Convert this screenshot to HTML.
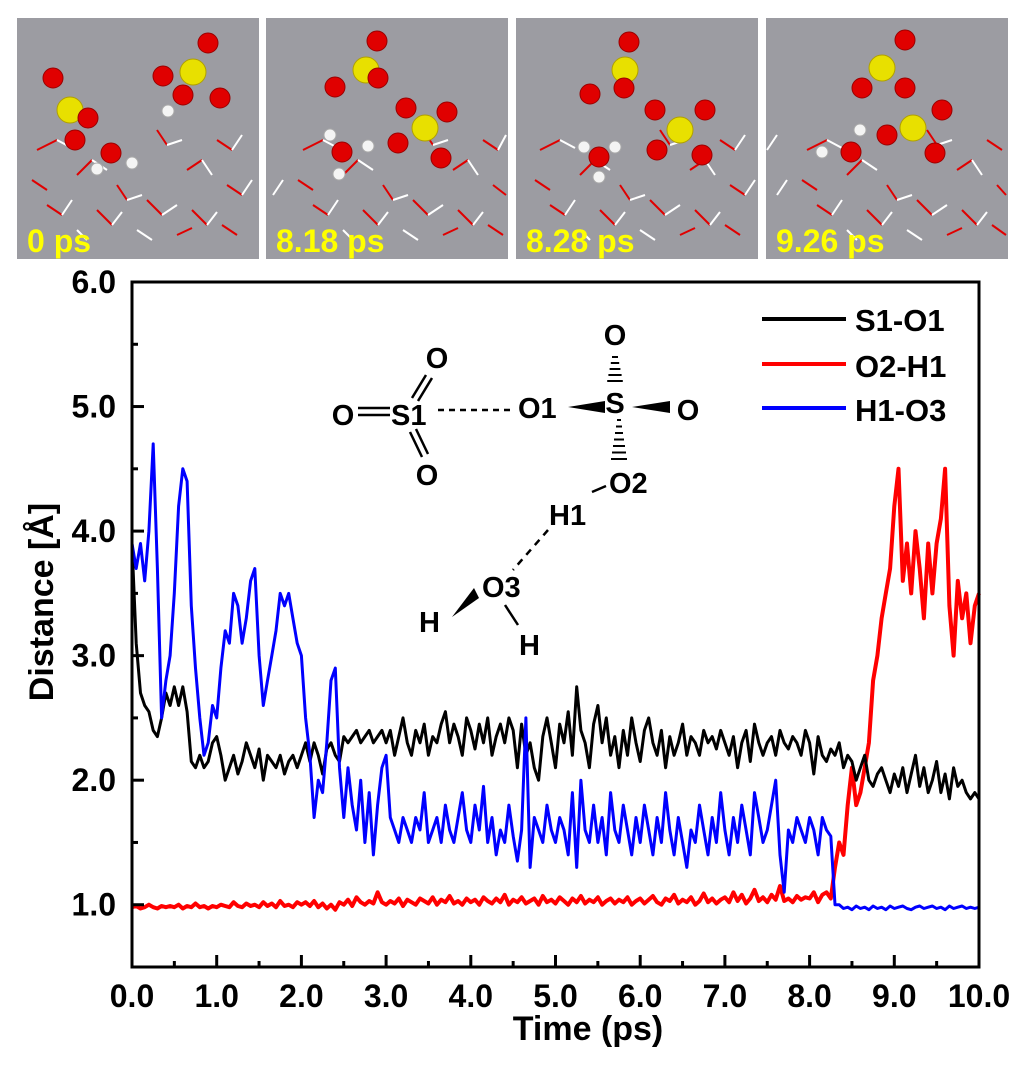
<!DOCTYPE html>
<html><head><meta charset="utf-8"><style>
html,body{margin:0;padding:0;background:#fff;}
svg{display:block;font-family:"Liberation Sans",Arial,sans-serif;font-weight:bold;}
</style></head><body>
<svg id="root" width="1033" height="1069" viewBox="0 0 1033 1069" xmlns="http://www.w3.org/2000/svg">
<g id="panels"></g>
<g id="chart"></g>
</svg>
<script>
// ---- chart data ----
const times = [];
for (let i = 0; i <= 200; i++) times.push(i * 0.05);
const xTickLabels = ["0.0","1.0","2.0","3.0","4.0","5.0","6.0","7.0","8.0","9.0","10.0"];
const yTickLabels = ["1.0","2.0","3.0","4.0","5.0","6.0"];
const seriesNames = ["S1-O1","O2-H1","H1-O3"];
const s1o1 = [3.9,3.1,2.7,2.6,2.55,2.4,2.35,2.5,2.7,2.6,2.75,2.6,2.75,2.55,2.15,2.1,2.2,2.1,2.15,2.3,
2.35,2.2,2.0,2.1,2.2,2.05,2.15,2.3,2.2,2.1,2.25,2.0,2.2,2.15,2.1,2.2,2.05,2.15,2.2,2.1,
2.2,2.3,2.15,2.3,2.2,2.05,2.25,2.3,2.2,2.15,2.35,2.3,2.35,2.4,2.3,2.35,2.4,2.3,2.35,2.4,
2.3,2.4,2.2,2.35,2.5,2.3,2.2,2.4,2.3,2.45,2.2,2.35,2.3,2.45,2.55,2.3,2.45,2.35,2.2,2.5,
2.4,2.25,2.45,2.3,2.5,2.2,2.35,2.45,2.3,2.5,2.4,2.1,2.45,2.2,2.3,2.1,2.0,2.35,2.5,2.3,
2.1,2.45,2.3,2.55,2.2,2.75,2.4,2.3,2.1,2.45,2.6,2.3,2.5,2.2,2.35,2.1,2.4,2.2,2.5,2.3,
2.15,2.4,2.5,2.3,2.2,2.4,2.1,2.35,2.2,2.3,2.45,2.2,2.35,2.3,2.2,2.4,2.3,2.35,2.25,2.4,
2.3,2.2,2.35,2.1,2.3,2.4,2.15,2.45,2.3,2.2,2.3,2.35,2.2,2.4,2.3,2.25,2.35,2.3,2.2,2.4,
2.3,2.05,2.35,2.2,2.15,2.25,2.2,2.3,2.1,2.2,2.15,2.0,2.1,2.2,2.0,1.95,2.05,2.1,2.0,1.9,
2.05,1.95,2.1,1.9,2.05,2.2,1.95,2.1,1.9,2.0,2.15,1.9,2.05,1.85,2.1,1.95,2.0,1.9,1.85,1.9,1.85];
const o2h1 = [0.98,0.99,0.97,0.98,1.0,0.98,0.97,0.99,0.98,0.99,0.98,1.0,0.97,0.99,0.98,1.01,0.98,0.99,0.97,0.99,
0.98,1.0,0.99,0.98,1.02,0.99,0.98,1.01,0.99,1.0,0.98,1.02,0.99,1.01,0.98,1.03,0.99,1.0,0.98,1.02,
1.0,1.02,0.99,1.03,0.98,1.01,0.97,1.0,0.96,1.02,1.0,1.04,0.99,1.06,1.02,1.0,1.03,1.01,1.10,1.02,
1.0,1.03,1.01,1.05,0.99,1.04,1.02,1.0,1.05,1.03,1.01,1.06,1.0,1.04,1.02,1.07,1.01,1.03,1.0,1.05,
1.02,1.04,1.0,1.06,1.03,1.01,1.05,1.02,1.08,1.0,1.04,1.02,1.06,1.01,1.03,1.05,1.0,1.07,1.02,1.04,
1.01,1.06,1.03,1.0,1.05,1.02,1.07,1.01,1.04,1.02,1.06,1.0,1.03,1.05,1.01,1.04,1.02,1.06,1.0,1.03,
1.05,1.01,1.04,1.07,1.02,1.0,1.05,1.03,1.08,1.01,1.04,1.02,1.06,1.0,1.03,1.09,1.02,1.05,1.01,1.04,
1.06,1.02,1.1,1.03,1.08,1.01,1.05,1.12,1.03,1.06,1.02,1.08,1.04,1.15,1.03,1.05,1.02,1.07,1.04,1.06,
1.05,1.1,1.02,1.08,1.1,1.05,1.3,1.5,1.4,1.8,2.1,1.8,1.9,2.1,2.3,2.8,3.0,3.3,3.5,3.7,
4.2,4.5,3.6,3.9,3.5,4.0,3.7,3.3,3.9,3.5,3.9,4.1,4.5,3.4,3.0,3.6,3.3,3.5,3.1,3.4,3.5];
const h1o3 = [3.9,3.7,3.9,3.6,4.0,4.7,3.7,2.5,2.8,3.0,3.5,4.2,4.5,4.4,3.4,2.9,2.5,2.2,2.3,2.6,
2.5,2.9,3.2,3.1,3.5,3.4,3.1,3.3,3.6,3.7,3.0,2.6,2.8,3.0,3.2,3.5,3.4,3.5,3.3,3.1,
3.0,2.5,2.2,1.7,2.0,1.9,2.3,2.8,2.9,2.1,1.7,2.1,1.8,1.6,2.0,1.5,1.9,1.4,1.8,2.1,
2.2,1.7,1.6,1.5,1.7,1.6,1.5,1.7,1.6,1.9,1.5,1.6,1.7,1.5,1.8,1.6,1.5,1.7,1.9,1.6,
1.5,1.8,1.6,1.95,1.5,1.7,1.4,1.6,1.5,1.8,1.55,1.35,1.6,2.5,1.3,1.7,1.6,1.5,1.8,1.6,
1.5,1.7,1.6,1.4,1.9,1.3,2.0,1.6,1.5,1.8,1.5,1.7,1.4,1.9,1.6,1.5,1.8,1.6,1.4,1.7,
1.5,1.8,1.6,1.4,1.7,1.5,1.9,1.6,1.4,1.7,1.5,1.3,1.6,1.5,1.8,1.6,1.4,1.7,1.5,1.9,
1.6,1.4,1.7,1.5,1.8,1.6,1.4,1.9,1.7,1.5,1.6,1.8,2.0,1.4,1.1,1.6,1.5,1.7,1.6,1.5,
1.7,1.6,1.4,1.7,1.6,1.55,1.0,1.0,0.97,0.98,0.96,0.99,0.97,0.98,0.96,0.99,0.97,0.98,0.96,0.99,
0.97,0.98,0.99,0.97,0.96,0.98,0.99,0.97,0.98,0.99,0.97,0.98,0.96,0.99,0.97,0.98,0.99,0.97,0.98,0.97,0.98];

const NS = "http://www.w3.org/2000/svg";
function mk(parent, tag, attrs, text){
  const e = document.createElementNS(NS, tag);
  for (const k in attrs) e.setAttribute(k, attrs[k]);
  if (text !== undefined) e.textContent = text;
  parent.appendChild(e);
  return e;
}
const X0 = 132, X1 = 979, Y0 = 967, Y1 = 282;
const xMin = 0, xMax = 10, yMin = 0.5, yMax = 6.0;
const xs = t => X0 + (t - xMin) / (xMax - xMin) * (X1 - X0);
const ys = v => Y0 - (v - yMin) / (yMax - yMin) * (Y0 - Y1);

const chart = document.getElementById('chart');

const colors = ["#000000","#ff0000","#0000ff"];
const widths = [3,4,3];
const order = [1,0,2];
const allSeries = [s1o1, o2h1, h1o3];
order.forEach(si => {
  const d = allSeries[si].map((v,i) => (i ? "L" : "M") + xs(times[i]).toFixed(1) + "," + ys(v).toFixed(1)).join("");
  const p = mk(chart, "path", {d: d, fill: "none", stroke: colors[si], "stroke-width": widths[si], "stroke-linejoin": "round"});
  
  
});

const frame = mk(chart, "rect", {x: X0, y: Y1, width: X1 - X0, height: Y0 - Y1, fill: "none", stroke: "#000", "stroke-width": 3});



for (let i = 0; i <= 20; i++) {
  const t = i * 0.5, major = i % 2 === 0;
  const tk = mk(chart, "line", {x1: xs(t), x2: xs(t), y1: Y0, y2: Y0 - (major ? 12 : 6), stroke: "#000", "stroke-width": 3});
  
  
}
xTickLabels.forEach((lab, i) => {
  const tl = mk(chart, "text", {x: xs(i), y: 1007, "text-anchor": "middle", "font-size": 32}, lab);
  
  
});
for (let i = 1; i <= 11; i++) {
  const v = 0.5 * i, major = i % 2 === 0;
  const tk = mk(chart, "line", {x1: X0, x2: X0 + (major ? 12 : 6), y1: ys(v), y2: ys(v), stroke: "#000", "stroke-width": 3});
  
  
}
yTickLabels.forEach((lab, i) => {
  const tl = mk(chart, "text", {x: 116, y: ys(i + 1) + 11, "text-anchor": "end", "font-size": 32}, lab);
  
  
});
</script>
<script>
(function(){
const NS = "http://www.w3.org/2000/svg";
const chart = document.getElementById('chart');
function mk(parent, tag, attrs, text){
  const e = document.createElementNS(NS, tag);
  for (const k in attrs) e.setAttribute(k, attrs[k]);
  if (text !== undefined) e.textContent = text;
  parent.appendChild(e);
  return e;
}
let e = mk(chart, "text", {x: 588, y: 1040, "text-anchor": "middle", "font-size": 34}, "Time (ps)");


e = mk(chart, "text", {x: 0, y: 0, "text-anchor": "middle", "font-size": 34, transform: "translate(53,602) rotate(-90)"}, "Distance [Å]");



const leg = [["S1-O1","#000",319,331],["O2-H1","#ff0000",364,377],["H1-O3","#0000ff",408,421]];
leg.forEach(l => {
  const g = mk(chart, "g", {});
  
  
  mk(g, "line", {x1: 762, x2: 846, y1: l[2], y2: l[2], stroke: l[1], "stroke-width": 4});
  mk(g, "text", {x: 855, y: l[3], "font-size": 31}, l[0]);
});

const ins = mk(chart, "g", {});


const T = (x,y,s,a) => mk(ins, "text", {x:x, y:y, "font-size": 29, "text-anchor": a || "middle"}, s);
const L = (x1,y1,x2,y2,extra) => mk(ins, "line", Object.assign({x1:x1,y1:y1,x2:x2,y2:y2,stroke:"#000","stroke-width":2.5}, extra||{}));
T(343,425,"O"); L(358,408,390,408); L(358,415,390,415);
T(391,425,"S1","start");
L(412,398,426,375); L(418,401,432,378);
T(437,368,"O");
L(410,432,422,457); L(416,429,428,454);
T(427,485,"O");
L(438,410,515,410,{"stroke-dasharray":"6,5"});
T(518,418,"O1","start");
mk(ins,"polygon",{points:"568,407 605,401 605,413"});
T(615,413,"S");
mk(ins,"polygon",{points:"632,407 670,401 670,413"});
T(688,420,"O");
T(615,345,"O");
for (let i=0;i<5;i++){ const y=357+i*6, w=3+i*1.2; L(615-w,y,615+w,y,{"stroke-width":2}); }
for (let i=0;i<7;i++){ const y=420+i*6.5, w=2+i*1.0; L(619-w,y,619+w,y,{"stroke-width":2}); }
T(609,493,"O2","start");
L(592,492,606,486);
T(549,525,"H1","start");
L(548,530,513,570,{"stroke-dasharray":"7,6"});
T(482,597,"O3","start");
mk(ins,"polygon",{points:"452,617 474,588 479,598"});
T(419,632,"H","start");
L(505,605,518,625);
T(519,655,"H","start");

const pg = document.getElementById('panels');
const panelX = [17,266,516,766];
const labels = ["0 ps","8.18 ps","8.28 ps","9.26 ps"];
const sticks = [[20,150,40,140],[40,140,55,148],[60,175,75,160],[75,160,90,170],[100,185,110,200],[110,200,125,195],[140,130,150,145],[150,145,165,140],[170,170,185,160],[185,160,195,175],[200,140,215,150],[215,150,225,135],[30,205,45,215],[45,215,55,200],[80,210,95,225],[95,225,105,212],[130,200,145,215],[145,215,160,205],[175,210,190,225],[190,225,200,212],[210,185,225,195],[225,195,235,180],[15,180,30,190],[120,230,135,240],[160,235,175,228],[60,230,70,240],[205,225,220,235]];
const balls = [
 {s:[[70,110],[193,72]], o:[[53,78],[88,118],[75,140],[208,43],[163,76],[220,98],[183,95],[111,153]], h:[[168,111],[97,169],[132,163]]},
 {s:[[366,70],[425,128]], o:[[377,41],[335,87],[378,78],[406,108],[447,112],[398,143],[441,158],[342,152]], h:[[368,146],[330,135],[339,174]]},
 {s:[[625,70],[680,130]], o:[[629,42],[590,94],[624,88],[655,110],[705,110],[657,150],[702,155],[599,157]], h:[[584,147],[615,147],[599,177]]},
 {s:[[882,68],[913,128]], o:[[905,40],[862,88],[905,88],[887,135],[942,110],[935,153],[851,152]], h:[[860,130],[822,152]]}
];
panelX.forEach((px, pi) => {
  const g = mk(pg, "g", {});
  
  
  mk(g, "rect", {x: px, y: 18, width: 242, height: 241, fill: "#9c9ca2"});
  sticks.forEach((s, k) => {
    const off = (pi * 17) % 30;
    const x1 = px + ((s[0] + off) % 235), x2 = x1 + (s[2] - s[0]);
    mk(g, "line", {x1: x1, y1: s[1], x2: Math.min(x2, px + 240), y2: s[3], stroke: k % 2 ? "#ffffff" : "#e00000", "stroke-width": 2});
  });
  const b = balls[pi];
  b.s.forEach(c => mk(g, "circle", {cx: c[0], cy: c[1], r: 13, fill: "#e8e000", stroke: "#b0a000"}));
  b.o.forEach(c => mk(g, "circle", {cx: c[0], cy: c[1], r: 10, fill: "#e00000", stroke: "#900"}));
  b.h.forEach(c => mk(g, "circle", {cx: c[0], cy: c[1], r: 6, fill: "#f4f4f4", stroke: "#aaa"}));
  const t = mk(g, "text", {x: px + 10, y: 252, "font-size": 32, fill: "#ffff00"}, labels[pi]);
  
  
});
})();
</script>
</body></html>
